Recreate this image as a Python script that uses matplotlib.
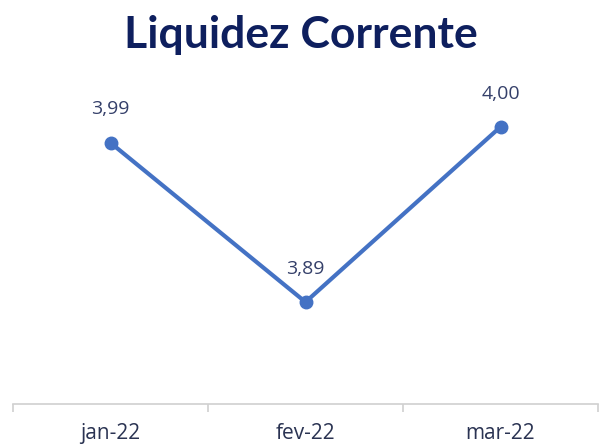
import matplotlib.pyplot as plt
from matplotlib.ticker import FixedLocator, NullFormatter

meses = ['jan-22', 'fev-22', 'mar-22']
liquidez = [3.99, 3.89, 4.00]

fig = plt.figure(figsize=(6.02, 4.44), dpi=100)
ax = fig.add_axes([13 / 602, 1 - 404 / 444, 585 / 602, (404 - 95) / 444])

x = list(range(len(meses)))
ax.plot(x, liquidez, color='#4472C4', linewidth=3, marker='o', markersize=9,
        solid_capstyle='round')

for xi, v in zip(x, liquidez):
    ax.annotate(f"{v:.2f}".replace('.', ','), xy=(xi, v), xytext=(0, 24),
                textcoords='offset points', ha='center', va='center',
                fontsize=14, color='#35406a', family='Open Sans')

ax.set_xlim(-0.5, 2.5)
ax.set_ylim(3.826, 4.02)

for s in ['top', 'right', 'left']:
    ax.spines[s].set_visible(False)
ax.spines['bottom'].set_color('#d0d0d0')
ax.spines['bottom'].set_linewidth(1.2)

ax.set_yticks([])
ax.xaxis.set_major_locator(FixedLocator([-0.5, 0.5, 1.5, 2.5]))
ax.xaxis.set_major_formatter(NullFormatter())
ax.tick_params(axis='x', which='major', length=6, color='#d0d0d0', width=1.2)
ax.xaxis.set_minor_locator(FixedLocator(x))
ax.set_xticklabels(meses, minor=True)
ax.tick_params(axis='x', which='minor', length=0, pad=14, labelsize=15,
               labelcolor='#2a3352')
for lbl in ax.get_xticklabels(minor=True):
    lbl.set_family('Open Sans')

fig.text(0.5, 1 - 35 / 444, 'Liquidez Corrente', ha='center', va='center',
         fontsize=32, fontweight='bold', color='#0e1f5e', family='Lato')

fig.savefig('out.png', dpi=100)
